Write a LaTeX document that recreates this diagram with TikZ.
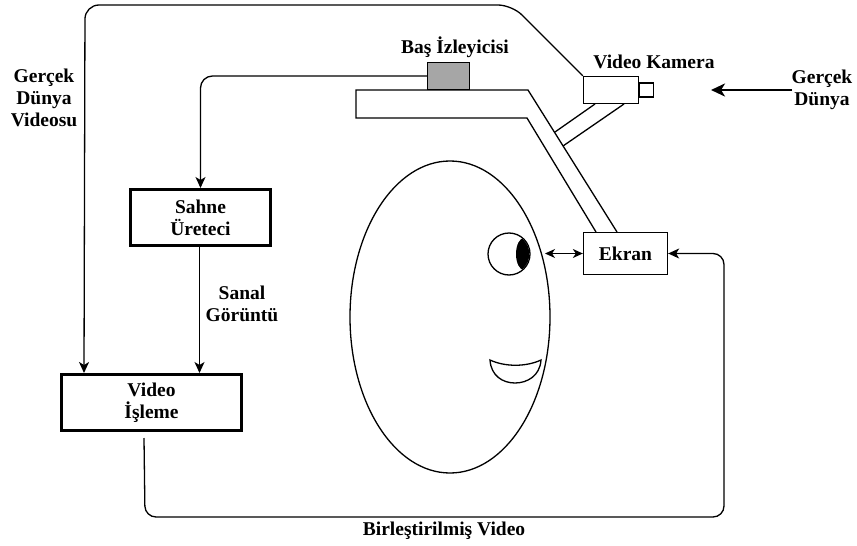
\documentclass[tikz,border=0pt]{standalone}
\usepackage{fontspec}
\setmainfont{Liberation Serif}
\usetikzlibrary{arrows.meta,calc,shapes.geometric}
\begin{document}
\begin{tikzpicture}[x=1pt,y=-1pt,
  line width=1.3pt,
  every node/.style={font=\fontsize{19.5}{22}\selectfont\bfseries, align=center},
  thickbox/.style={draw, line width=3pt, inner sep=0pt},
  thinbox/.style={draw, line width=1.3pt, inner sep=0pt},
  label/.style={inner sep=0pt},
  arr/.style={-{Stealth[length=11pt,width=10pt,inset=3pt]}},
  darr/.style={{Stealth[length=10pt,width=9pt,inset=3pt]}-{Stealth[length=10pt,width=9pt,inset=3pt]}},
  bigarr/.style={line width=2.6pt,-{Stealth[length=14pt,width=13pt,inset=4pt]}}]
\useasboundingbox (0,0) rectangle (857,546);

% processing blocks
\node[thickbox, minimum width=140pt, minimum height=56pt] (sahne) at (200.5,217.5) {Sahne\\Üreteci};
\node[thickbox, minimum width=180pt, minimum height=56pt] (vp) at (151.5,402.5) {Video\\İşleme};
\node[thinbox, minimum width=84pt, minimum height=42pt] (ekran) at (625.5,253.5) {Ekran};

% head-mounted hardware
\node[thinbox, fill=black!35, minimum width=42pt, minimum height=27pt] (tracker) at (448.5,76) {};
\node[thinbox, minimum width=55pt, minimum height=27pt] (cam) at (611,90) {};
\node[thinbox, minimum width=14pt, minimum height=14pt, anchor=west] (lens) at (cam.east) {};

% headband reaching down to the display
\draw (617,232) -- (528,90) -- (356,90) -- (356,118) -- (527,118) -- (596,232);
% camera mount
\draw (595,104) -- (555,132);
\draw (624,104) -- (563,146);

% face
\node[draw, ellipse, minimum width=200pt, minimum height=312pt, inner sep=0pt] (face) at (450,317) {};
\node[draw, circle, minimum size=42pt, inner sep=0pt] (eye) at (509,254) {};
\begin{scope}
  \clip (509,254) circle (20.3);
  \fill (524,254) ellipse (8 and 16);
\end{scope}
\draw (490,360) .. controls (505,367) and (526,367) .. (541,360)
      .. controls (540,376) and (527,383) .. (515,383)
      .. controls (503,383) and (491,376) .. (490,360) -- cycle;

% labels
\node[label] (lblReal) at (44,98) {Gerçek\\Dünya\\Videosu};
\node[label] (lblTrack) at (455,47) {Baş İzleyicisi};
\node[label] (lblCam) at (654,62) {Video Kamera};
\node[label] (lblWorld) at (822,90) {Gerçek\\Dünya};
\node[label] (lblSanal) at (242,304) {Sanal\\Görüntü};
\node[label, anchor=base] (lblMerge) at (444,535) {Birleştirilmiş Video};

% connectors
\coordinate (topturn) at (512,5);
\draw[arr, rounded corners=14pt] (cam.north west) -- (topturn) -- (85,5) -- ([xshift=24pt]vp.north west);
\draw[arr, rounded corners=12pt] (tracker.west) -| (sahne.north);
\draw[arr] ([xshift=-1pt]sahne.south) -- ([xshift=-1pt]sahne.south |- vp.north);
\coordinate (mergestart) at ($(vp.south west)+(84,6)$);
\coordinate (mergeleft) at (145,517);
\coordinate (mergeright) at (724,517);
\draw[arr, rounded corners=11pt] (mergestart) -- (mergeleft) -- (mergeright) |- (ekran.east);
\coordinate (eyegap) at (545,253.5);
\draw[darr] (eyegap) -- (ekran.west);
\coordinate (worldsrc) at (792,90);
\draw[bigarr] (worldsrc) -- (711,90);
\end{tikzpicture}
\end{document}
